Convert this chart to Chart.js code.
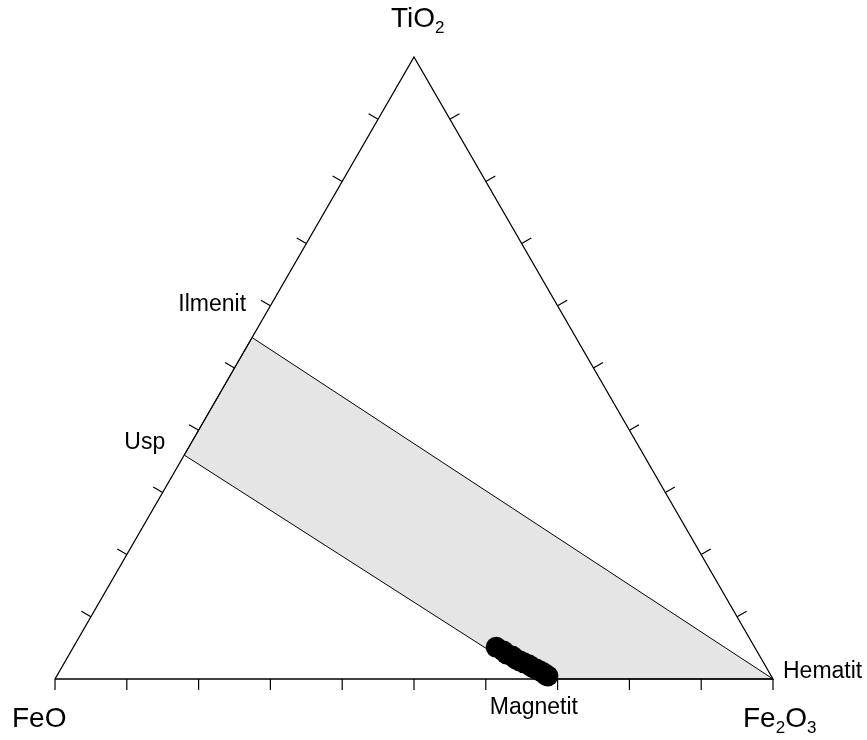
<!DOCTYPE html>
<html>
<head>
<meta charset="utf-8">
<title>TiO2 - FeO - Fe2O3</title>
<script src="https://cdn.jsdelivr.net/npm/chart.js@4.4.1/dist/chart.umd.min.js"></script>
<style>
  html, body { margin: 0; padding: 0; background: #fff; }
</style>
</head>
<body>
<canvas id="ternaryChart" width="867" height="740"></canvas>
<script>
// Zusammensetzungen in Gew.-% (TiO2, Fe2O3; FeO = Rest)
const mineralNames = ['Ilmenit', 'Usp', 'Magnetit', 'Hematit'];
const mineralTiO2 = [54.9, 36.0, 0, 0];
const mineralFe2O3 = [0, 0, 66.7, 100];

// Proben
const sampleTiO2 = [5.1, 4.5, 4.0, 3.7, 3.2, 2.9, 2.6, 2.3, 1.9, 1.6, 1.3, 1.0, 0.6, 0.5];
const sampleFe2O3 = [58.9, 60.2, 60.9, 61.8, 62.6, 63.3, 64.0, 64.8, 65.5, 66.2, 66.9, 67.5, 68.1, 68.4];

// Teilstriche alle 10 %
const tickSteps = [0, 10, 20, 30, 40, 50, 60, 70, 80, 90, 100];

const SQ3 = Math.sqrt(3) / 2;
const FONT = '"Liberation Sans", Arial, Helvetica, sans-serif';

// Dreieckskoordinaten -> kartesisch (Basis FeO..Fe2O3, Spitze TiO2)
function toXY(ti, fe3) {
    const t = ti / 100, h = fe3 / 100;
    return { x: h + t / 2, y: t * SQ3 };
}

const samplePoints = sampleTiO2.map((t, i) => toXY(t, sampleFe2O3[i]));
const minerals = mineralNames.map((n, i) => toXY(mineralTiO2[i], mineralFe2O3[i]));
const [ilm, usp, mag, hem] = minerals;

// Feld Ilmenit - Hematit - Magnetit - Usp
const fieldPoints = [ilm, hem, mag, usp, ilm];
const outline = [toXY(0, 0), toXY(0, 100), toXY(100, 0), toXY(0, 0)];

// Teilstriche und Beschriftungen
const ternaryDecor = {
    id: 'ternaryDecor',
    afterDatasetsDraw(chart) {
        const { ctx, scales: { x, y } } = chart;
        const px = (ti, fe3) => {
            const p = toXY(ti, fe3);
            return [x.getPixelForValue(p.x), y.getPixelForValue(p.y)];
        };
        const len = 11;
        ctx.save();
        ctx.strokeStyle = '#000';
        ctx.lineWidth = 1.2;
        ctx.beginPath();
        tickSteps.forEach(s => {
            // Basis (Fe2O3-Anteil)
            let [bx, by] = px(0, s);
            ctx.moveTo(bx, by);
            ctx.lineTo(bx, by + len);
            if (s > 0 && s < 100) {
                // linke Seite
                let [lx, ly] = px(s, 0);
                ctx.moveTo(lx, ly);
                ctx.lineTo(lx - len * SQ3, ly - len / 2);
                // rechte Seite
                let [rx, ry] = px(s, 100 - s);
                ctx.moveTo(rx, ry);
                ctx.lineTo(rx + len * SQ3, ry - len / 2);
            }
        });
        ctx.stroke();

        ctx.fillStyle = '#000';
        ctx.textBaseline = 'alphabetic';

        // Formel mit tiefgestellten Ziffern
        const formula = (parts, x0, yb, size) => {
            let cx = x0;
            parts.forEach(p => {
                const sub = /^[0-9]$/.test(p);
                ctx.font = (sub ? Math.round(size * 0.62) : size) + 'px ' + FONT;
                ctx.textAlign = 'left';
                ctx.fillText(p, cx, yb + (sub ? size * 0.22 : 0));
                cx += ctx.measureText(p).width;
            });
        };
        const [tx] = px(100, 0);
        const [fx, fy] = px(0, 0);
        const [hx, hy] = px(0, 100);
        formula(['TiO', '2'], tx - 23, 27, 28);
        formula(['FeO'], fx - 43, fy + 48, 28);
        formula(['Fe', '2', 'O', '3'], hx - 30, hy + 48, 28);

        ctx.font = '23px ' + FONT;
        const [ix, iy] = px(mineralTiO2[0], mineralFe2O3[0]);
        ctx.textAlign = 'right';
        ctx.fillText('Ilmenit', ix - 6, iy - 27);
        const [ux, uy] = px(mineralTiO2[1], mineralFe2O3[1]);
        ctx.fillText('Usp', ux - 19, uy - 6);
        const [mx, my] = px(mineralTiO2[2], mineralFe2O3[2]);
        ctx.textAlign = 'center';
        ctx.fillText('Magnetit', mx, my + 35);
        ctx.textAlign = 'left';
        ctx.fillText('Hematit', hx + 10, hy - 1);
        ctx.restore();
    }
};

new Chart(document.getElementById('ternaryChart'), {
    type: 'scatter',
    data: {
        datasets: [
            {
                label: 'Proben',
                data: samplePoints,
                pointRadius: 10.5,
                pointBackgroundColor: '#000',
                pointBorderColor: '#000',
                pointBorderWidth: 0,
                clip: false,
                order: 0
            },
            {
                label: 'Dreieck',
                data: outline,
                showLine: true,
                borderColor: '#000',
                borderWidth: 1.3,
                pointRadius: 0,
                fill: false,
                clip: false,
                order: 1
            },
            {
                label: 'Feld',
                data: fieldPoints,
                showLine: true,
                borderColor: '#000',
                borderWidth: 1,
                backgroundColor: '#e5e5e5',
                pointRadius: 0,
                fill: 'shape',
                clip: false,
                order: 2
            }
        ]
    },
    options: {
        responsive: false,
        animation: false,
        devicePixelRatio: 1,
        layout: { padding: { left: 55, right: 94, top: 57, bottom: 61 } },
        plugins: { legend: { display: false }, tooltip: { enabled: false } },
        scales: {
            x: { type: 'linear', min: 0, max: 1, display: false },
            y: { type: 'linear', min: 0, max: SQ3, display: false }
        }
    },
    plugins: [ternaryDecor]
});
</script>
</body>
</html>
